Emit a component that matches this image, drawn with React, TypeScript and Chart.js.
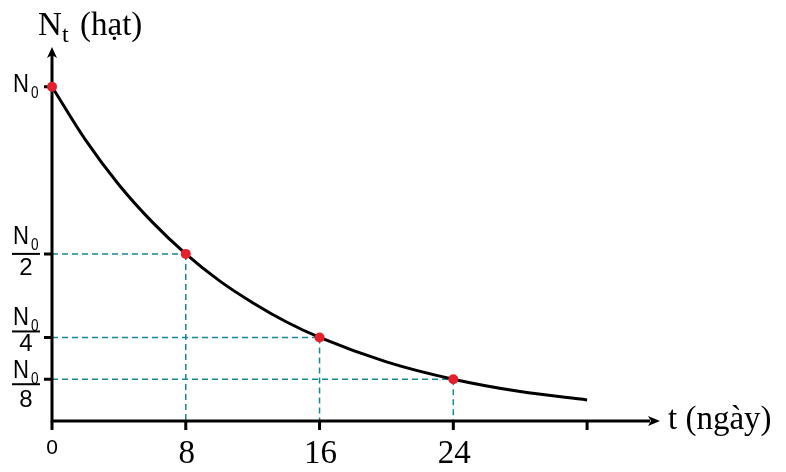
import React, { useEffect, useRef } from "react";
import { Chart, registerables } from "chart.js";

Chart.register(...registerables);

// Data
const tDays = [0, 2, 4, 6, 8, 10, 12, 14, 16, 20, 24, 28, 32];
const nValues = [1, 0.841, 0.707, 0.595, 0.5, 0.42, 0.354, 0.297, 0.25, 0.177, 0.125, 0.088, 0.063];
const markedT = [0, 8, 16, 24];
const markedN = [1, 0.5, 0.25, 0.125];
const xTickValues = [0, 8, 16, 24, 32];
const xTickLabels = ["0", "8", "16", "24", ""];
const yTickValues = [1, 0.5, 0.25, 0.125];
const yTickDenoms = ["", "2", "4", "8"];
const xTitle = "t (ngày)";
const yTitleMain = "N";
const yTitleSub = "t";
const yTitleUnit = "(hạt)";

const SERIF = '"Liberation Serif", "Times New Roman", serif';
const SANS = '"Liberation Sans", Arial, sans-serif';

// per-label vertical offsets (numerator baseline, bar, denominator baseline) relative to tick
const labelOffsets = [
  { n: 5, bar: 0, d: 0 },
  { n: -10, bar: 0, d: 21 },
  { n: -12, bar: -6, d: 14 },
  { n: -1, bar: 5, d: 28 },
];

const axesPlugin = {
  id: "customAxes",
  beforeDatasetsDraw(chart: any) {
    const ctx = chart.ctx;
    const xs = chart.scales.x;
    const ys = chart.scales.y;
    const x0 = xs.getPixelForValue(0);
    const y0 = ys.getPixelForValue(0);
    ctx.save();
    // dashed guides
    ctx.strokeStyle = "#15898f";
    ctx.lineWidth = 1.5;
    ctx.setLineDash([6, 4]);
    for (let i = 0; i < markedT.length; i++) {
      if (markedT[i] === 0) continue;
      const px = xs.getPixelForValue(markedT[i]);
      const py = ys.getPixelForValue(markedN[i]);
      ctx.beginPath();
      ctx.moveTo(x0, py);
      ctx.lineTo(px, py);
      ctx.moveTo(px, py);
      ctx.lineTo(px, y0);
      ctx.stroke();
    }
    ctx.setLineDash([]);
    // axes
    const top = chart.chartArea.top;
    const right = chart.chartArea.right;
    ctx.strokeStyle = "#000";
    ctx.fillStyle = "#000";
    ctx.lineWidth = 3;
    ctx.beginPath();
    ctx.moveTo(x0, y0 + 1.5);
    ctx.lineTo(x0, top + 14);
    ctx.moveTo(x0 - 1.5, y0);
    ctx.lineTo(right - 10, y0);
    ctx.stroke();
    // arrows
    ctx.beginPath();
    ctx.moveTo(x0, top + 7);
    ctx.lineTo(x0 - 5, top + 18);
    ctx.lineTo(x0, top + 15);
    ctx.lineTo(x0 + 5, top + 18);
    ctx.closePath();
    ctx.fill();
    ctx.beginPath();
    ctx.moveTo(right, y0);
    ctx.lineTo(right - 12, y0 - 5);
    ctx.lineTo(right - 9, y0);
    ctx.lineTo(right - 12, y0 + 5);
    ctx.closePath();
    ctx.fill();
    // ticks
    ctx.lineWidth = 3;
    ctx.beginPath();
    for (const v of xTickValues) {
      const px = xs.getPixelForValue(v);
      ctx.moveTo(px, y0);
      ctx.lineTo(px, y0 + 9);
    }
    for (const v of yTickValues) {
      const py = ys.getPixelForValue(v);
      ctx.moveTo(x0, py);
      ctx.lineTo(x0 - 8, py);
    }
    ctx.stroke();
    ctx.restore();
  },
  afterDraw(chart: any) {
    const ctx = chart.ctx;
    const xs = chart.scales.x;
    const ys = chart.scales.y;
    const y0 = ys.getPixelForValue(0);
    const right = chart.chartArea.right;
    ctx.save();
    ctx.fillStyle = "#000";
    ctx.textBaseline = "alphabetic";
    // x tick labels
    ctx.textAlign = "center";
    for (let i = 0; i < xTickValues.length; i++) {
      const lbl = xTickLabels[i];
      if (!lbl) continue;
      const px = xs.getPixelForValue(xTickValues[i]);
      if (lbl === "0") {
        ctx.font = `21px ${SANS}`;
        ctx.fillText(lbl, px, y0 + 33);
      } else {
        ctx.font = `33px ${SERIF}`;
        ctx.fillText(lbl, px + 1, y0 + 42);
      }
    }
    // y tick labels (N0, N0/2 ...)
    const cx = 26;
    for (let i = 0; i < yTickValues.length; i++) {
      const py = ys.getPixelForValue(yTickValues[i]);
      const den = yTickDenoms[i];
      const off = labelOffsets[i];
      ctx.textAlign = "left";
      // numerator N0 (slightly condensed)
      ctx.save();
      ctx.translate(13, py + off.n);
      ctx.scale(0.85, 1);
      ctx.font = `26px ${SANS}`;
      ctx.fillText("N", 0, 0);
      ctx.restore();
      ctx.save();
      ctx.translate(31, py + off.n + 6);
      ctx.scale(0.85, 1);
      ctx.font = `16px ${SANS}`;
      ctx.fillText("0", 0, 0);
      ctx.restore();
      if (den) {
        ctx.fillRect(12, py + off.bar - 1, 28, 2);
        ctx.font = `24px ${SANS}`;
        ctx.textAlign = "center";
        ctx.fillText(den, cx, py + off.d);
      }
    }
    // axis titles
    ctx.textAlign = "left";
    ctx.font = `33px ${SERIF}`;
    ctx.fillText(xTitle, right + 8, y0 + 8);
    ctx.font = `33px ${SERIF}`;
    ctx.fillText(yTitleMain, 38, 35);
    ctx.font = `24px ${SERIF}`;
    ctx.fillText(yTitleSub, 62, 42);
    ctx.font = `33px ${SERIF}`;
    ctx.fillText(yTitleUnit, 80, 35);
    ctx.restore();
  },
};

export default function App() {
  const ref = useRef<HTMLCanvasElement | null>(null);
  useEffect(() => {
    document.body.style.margin = "0";
    if (!ref.current) return;
    const chart = new Chart(ref.current, {
      type: "line",
      data: {
        datasets: [
          {
            data: tDays.map((t, i) => ({ x: t, y: nValues[i] })),
            borderColor: "#000",
            borderWidth: 3,
            pointRadius: 0,
            cubicInterpolationMode: "monotone",
            clip: false as any,
            order: 2,
          },
          {
            data: markedT.map((t, i) => ({ x: t, y: markedN[i] })),
            showLine: false,
            pointRadius: 5,
            pointBackgroundColor: "#e3202c",
            pointBorderColor: "#e3202c",
            pointBorderWidth: 0,
            clip: false as any,
            order: 1,
          },
        ],
      },
      options: {
        responsive: false,
        animation: false,
        devicePixelRatio: 1,
        layout: { padding: { left: 52, right: 126, top: 40, bottom: 51 } },
        plugins: { legend: { display: false }, tooltip: { enabled: false } },
        scales: {
          x: { type: "linear", min: 0, max: 36.36, display: false },
          y: { type: "linear", min: 0, max: 1.14, display: false },
        },
      },
      plugins: [axesPlugin],
    });
    return () => chart.destroy();
  }, []);
  return <canvas ref={ref} width={786} height={472} style={{ display: "block" }} />;
}
